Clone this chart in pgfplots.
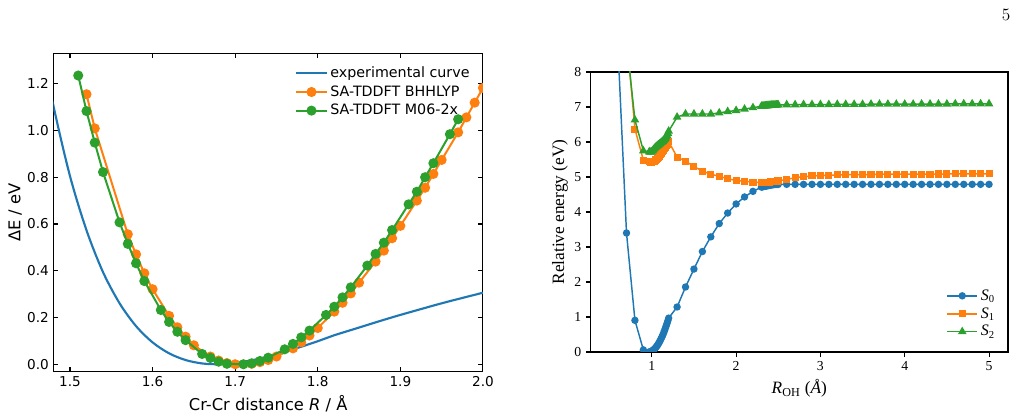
\documentclass[border=0pt]{standalone}
\usepackage{fontspec}
\usepackage{pgfplots}
\pgfplotsset{compat=1.18}
\newfontfamily\dejavu{DejaVu Sans}
\newfontfamily\timesf{Liberation Serif}
\definecolor{c0}{HTML}{1F77B4}
\definecolor{c1}{HTML}{FF7F0E}
\definecolor{c2}{HTML}{2CA02C}

\begin{document}
\begin{tikzpicture}
% page frame: 1027 x 416 px at 0.75pt per px
\path[use as bounding box] (0pt,0pt) rectangle (770.25pt,312pt);
\node[font=\fontsize{13}{13}\selectfont] at (754.5pt,300.75pt) {5};

% ---------------- left panel: Cr2 potential curves ----------------
\begin{axis}[
  at={(40.1pt,33.2pt)}, anchor=south west,
  width=322.1pt, height=238.8pt, scale only axis,
  xmin=1.48, xmax=2.0, ymin=-0.032, ymax=1.33,
  xtick={1.5,1.6,1.7,1.8,1.9,2.0},
  ytick={0,0.2,0.4,0.6,0.8,1.0,1.2},
  tick align=inside, major tick length=3.5pt,
  tick style={black, line width=0.8pt},
  axis line style={line width=0.8pt},
  tick label style={font=\dejavu\fontsize{10.2}{12}\selectfont},
  /pgf/number format/assume math mode=true,
  /pgf/number format/fixed, /pgf/number format/fixed zerofill,
  /pgf/number format/precision=1,
  label style={font=\dejavu\fontsize{12.2}{14}\selectfont},
  xlabel={Cr-Cr distance \textit{R} / Å},
  ylabel={ΔE / eV},
  ylabel style={yshift=-3pt},
  legend style={draw=none, fill=none, at={(0.985,0.975)}, anchor=north east,
    font=\dejavu\fontsize{10.7}{13}\selectfont, row sep=0.5pt},
  legend cell align=left,
  legend image code/.code={\draw[mark repeat=2,mark phase=2] plot coordinates {(0cm,0cm) (0.4cm,0cm) (0.8cm,0cm)};},
  clip marker paths=true,
]
\addplot[c0, line width=1.6pt, smooth] coordinates {
(1.46,1.46) (1.48,1.105) (1.50,0.805) (1.52,0.573) (1.54,0.394) (1.56,0.261)
(1.58,0.163) (1.60,0.0935) (1.62,0.0466) (1.64,0.0179) (1.66,0.0034)
(1.68,0.0001) (1.70,0.0053) (1.72,0.0169) (1.74,0.0332) (1.76,0.0529)
(1.78,0.0750) (1.80,0.0985) (1.82,0.124) (1.84,0.146) (1.86,0.168)
(1.88,0.190) (1.90,0.211) (1.92,0.231) (1.94,0.251) (1.96,0.270)
(1.98,0.288) (2.00,0.306)
};
\addlegendentry{experimental curve}
\addplot[c1, line width=1.5pt, mark=*, mark size=3pt, mark options={solid}] coordinates {
(1.52,1.155) (1.53,1.009) (1.57,0.556) (1.58,0.470) (1.59,0.389) (1.60,0.321)
(1.62,0.207) (1.63,0.158) (1.64,0.118) (1.65,0.081) (1.67,0.033) (1.68,0.016)
(1.69,0.005) (1.70,0.000) (1.72,0.002) (1.73,0.009) (1.74,0.018) (1.75,0.033)
(1.77,0.068) (1.78,0.094) (1.79,0.123) (1.80,0.155) (1.82,0.225) (1.83,0.263)
(1.84,0.303) (1.85,0.349) (1.87,0.439) (1.88,0.486) (1.89,0.539) (1.90,0.592)
(1.92,0.700) (1.93,0.755) (1.94,0.814) (1.95,0.874) (1.97,0.992) (1.98,1.056)
(1.99,1.119) (2.00,1.182)
};
\addlegendentry{SA-TDDFT BHHLYP}
\addplot[c2, line width=1.5pt, mark=*, mark size=3pt, mark options={solid}] coordinates {
(1.51,1.235) (1.52,1.083) (1.53,0.948) (1.54,0.822) (1.56,0.607) (1.57,0.515)
(1.58,0.432) (1.59,0.356) (1.61,0.232) (1.62,0.181) (1.63,0.139) (1.64,0.103)
(1.66,0.044) (1.67,0.027) (1.68,0.011) (1.69,0.002) (1.71,0.000) (1.72,0.004)
(1.73,0.014) (1.74,0.028) (1.76,0.064) (1.77,0.087) (1.78,0.115) (1.79,0.144)
(1.81,0.211) (1.82,0.246) (1.83,0.286) (1.84,0.329) (1.86,0.422) (1.87,0.472)
(1.88,0.520) (1.89,0.574) (1.91,0.684) (1.92,0.738) (1.93,0.800) (1.94,0.860)
(1.96,0.984) (1.97,1.048)
};
\addlegendentry{SA-TDDFT M06-2x}
\end{axis}

% ---------------- right panel: O-H stretch scan ----------------
\begin{axis}[
  at={(443pt,48pt)}, anchor=south west,
  width=313pt, height=210pt, scale only axis,
  xmin=0.275, xmax=5.225, ymin=0, ymax=8,
  xtick={1,2,3,4,5}, ytick={0,1,2,3,4,5,6,7,8},
  tick align=outside, tick pos=left, major tick length=3.5pt,
  tick style={black, line width=0.8pt},
  axis line style={line width=0.8pt},
  tick label style={font=\timesf\fontsize{10.3}{12}\selectfont},
  /pgf/number format/assume math mode=true,
  label style={font=\timesf\fontsize{13}{15}\selectfont},
  xlabel={\textit{R}\textsubscript{OH} (\textit{Å})},
  ylabel={Relative energy (eV)},
  ylabel style={yshift=-2pt},
  legend style={draw=none, fill=none, at={(0.985,0.03)}, anchor=south east,
    font=\timesf\fontsize{12}{14}\selectfont, row sep=0pt},
  legend cell align=left,
  legend image code/.code={\draw[mark repeat=2,mark phase=2] plot coordinates {(0cm,0cm) (0.4cm,0cm) (0.8cm,0cm)};},
  clip marker paths=true,
]
\addplot[c0, line width=1.1pt, mark=*, mark size=2.2pt, mark options={solid}] coordinates {
(0.6,8.63) (0.7,3.40) (0.8,0.905) (0.9,0.06)
(0.97,0.002) (0.98,0.007) (0.99,0.015) (1.00,0.027) (1.01,0.042) (1.02,0.060)
(1.03,0.082) (1.04,0.107) (1.05,0.136) (1.06,0.168) (1.07,0.203) (1.08,0.242)
(1.09,0.284) (1.10,0.329) (1.11,0.378) (1.12,0.430) (1.13,0.486) (1.14,0.544)
(1.15,0.606) (1.16,0.672) (1.17,0.741) (1.18,0.813) (1.19,0.889) (1.20,0.968)
(1.3,1.286) (1.4,1.857) (1.5,2.37) (1.6,2.87) (1.7,3.29) (1.8,3.67) (1.9,3.97)
(2.0,4.23) (2.1,4.43) (2.2,4.59)
(2.30,4.71) (2.31,4.72) (2.32,4.725) (2.33,4.73) (2.34,4.735) (2.35,4.74)
(2.36,4.745) (2.37,4.75) (2.38,4.755) (2.39,4.76) (2.40,4.765) (2.41,4.77)
(2.42,4.775) (2.43,4.78) (2.44,4.78) (2.45,4.785) (2.46,4.785) (2.47,4.79)
(2.48,4.79) (2.49,4.79) (2.50,4.79)
(2.6,4.79) (2.7,4.79) (2.8,4.79) (2.9,4.79) (3.0,4.79) (3.1,4.79) (3.2,4.79)
(3.3,4.79) (3.4,4.79) (3.5,4.79) (3.6,4.79) (3.7,4.79) (3.8,4.79) (3.9,4.79)
(4.0,4.79) (4.1,4.79) (4.2,4.79) (4.3,4.79) (4.4,4.79) (4.5,4.79) (4.6,4.79)
(4.7,4.79) (4.8,4.79) (4.9,4.79) (5.0,4.79)
};
\addlegendentry{\textit{S}\textsubscript{0}}
\addplot[c1, line width=1.1pt, mark=square*, mark size=2.1pt, mark options={solid}] coordinates {
(0.7,9.04) (0.8,6.37) (0.9,5.48)
(0.97,5.44) (0.98,5.43) (0.99,5.42) (1.00,5.42) (1.01,5.43) (1.02,5.44)
(1.03,5.45) (1.04,5.47) (1.05,5.49) (1.06,5.51) (1.07,5.54) (1.08,5.57)
(1.09,5.60) (1.10,5.63) (1.11,5.66) (1.12,5.70) (1.13,5.74) (1.14,5.77)
(1.15,5.81) (1.16,5.85) (1.17,5.89) (1.18,5.93) (1.19,5.97) (1.20,6.01)
(1.3,5.57) (1.4,5.45) (1.5,5.30) (1.6,5.17) (1.7,5.08) (1.8,5.02) (1.9,4.95)
(2.0,4.90) (2.1,4.88) (2.2,4.85)
(2.30,4.84) (2.31,4.84) (2.32,4.84) (2.33,4.84) (2.34,4.84) (2.35,4.845)
(2.36,4.845) (2.37,4.85) (2.38,4.85) (2.39,4.855) (2.40,4.855) (2.41,4.86)
(2.42,4.86) (2.43,4.865) (2.44,4.87) (2.45,4.87) (2.46,4.875) (2.47,4.88)
(2.48,4.88) (2.49,4.885) (2.50,4.89)
(2.6,4.93) (2.7,4.98) (2.8,5.01) (2.9,5.03) (3.0,5.04) (3.1,5.05) (3.2,5.06)
(3.3,5.06) (3.4,5.07) (3.5,5.07) (3.6,5.07) (3.7,5.08) (3.8,5.08) (3.9,5.08)
(4.0,5.08) (4.1,5.08) (4.2,5.08) (4.3,5.08) (4.4,5.085) (4.5,5.085) (4.6,5.09)
(4.7,5.09) (4.8,5.09) (4.9,5.09) (5.0,5.09)
};
\addlegendentry{\textit{S}\textsubscript{1}}
\addplot[c2, line width=1.1pt, mark=triangle*, mark size=2.7pt, mark options={solid}] coordinates {
(0.7,8.88) (0.8,6.63) (0.9,5.75)
(0.97,5.72) (0.98,5.71) (0.99,5.71) (1.00,5.72) (1.01,5.75) (1.02,5.78)
(1.03,5.81) (1.04,5.84) (1.05,5.86) (1.06,5.88) (1.07,5.90) (1.08,5.92)
(1.09,5.94) (1.10,5.96) (1.11,5.98) (1.12,6.00) (1.13,6.02) (1.14,6.04)
(1.15,6.07) (1.16,6.10) (1.17,6.14) (1.18,6.19) (1.19,6.25) (1.20,6.31)
(1.3,6.71) (1.4,6.80) (1.5,6.80) (1.6,6.80) (1.7,6.80) (1.8,6.83) (1.9,6.87)
(2.0,6.90) (2.1,6.94) (2.2,6.98)
(2.30,7.02) (2.31,7.022) (2.32,7.025) (2.33,7.027) (2.34,7.03) (2.35,7.032)
(2.36,7.035) (2.37,7.037) (2.38,7.04) (2.39,7.042) (2.40,7.045) (2.41,7.047)
(2.42,7.05) (2.43,7.05) (2.44,7.052) (2.45,7.055) (2.46,7.055) (2.47,7.057)
(2.48,7.06) (2.49,7.06) (2.50,7.06)
(2.6,7.065) (2.7,7.065) (2.8,7.07) (2.9,7.07) (3.0,7.07) (3.1,7.07) (3.2,7.075)
(3.3,7.075) (3.4,7.075) (3.5,7.075) (3.6,7.08) (3.7,7.08) (3.8,7.08) (3.9,7.08)
(4.0,7.08) (4.1,7.08) (4.2,7.085) (4.3,7.085) (4.4,7.085) (4.5,7.085) (4.6,7.09)
(4.7,7.09) (4.8,7.09) (4.9,7.09) (5.0,7.09)
};
\addlegendentry{\textit{S}\textsubscript{2}}
\end{axis}
\end{tikzpicture}
\end{document}
